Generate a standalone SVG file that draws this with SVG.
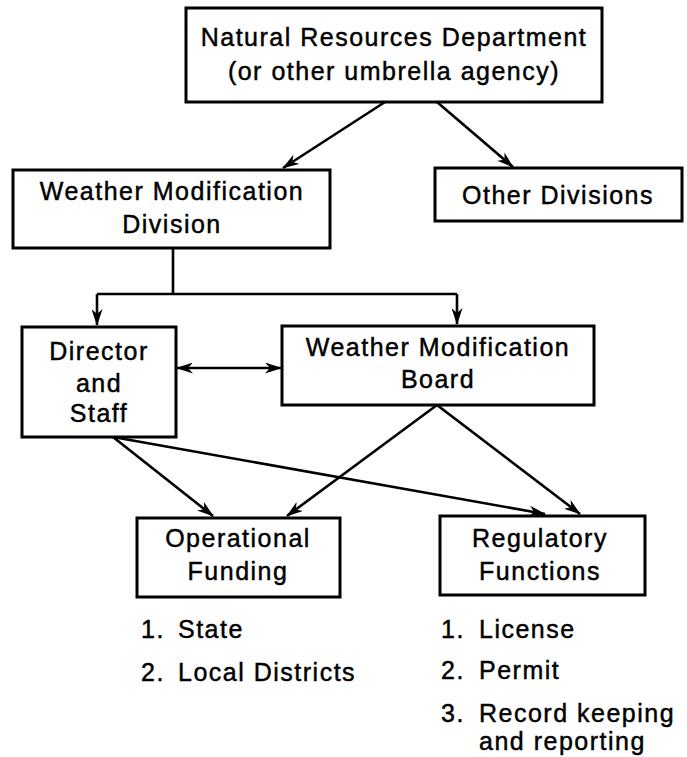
<svg xmlns="http://www.w3.org/2000/svg" width="687" height="757" viewBox="0 0 687 757">
<style>
.box{fill:#fff;stroke:#000;stroke-width:3}
.t{font-family:"Liberation Sans",Arial,sans-serif;font-size:25px;letter-spacing:1.5px;fill:#000;stroke:#000;stroke-width:0.45;text-anchor:middle}
.l{font-family:"Liberation Sans",Arial,sans-serif;font-size:25px;letter-spacing:1.5px;fill:#000;stroke:#000;stroke-width:0.45}
.c{fill:none;stroke:#000;stroke-width:2.6}
</style>
<defs>
<marker id="ah" markerUnits="userSpaceOnUse" markerWidth="17" markerHeight="11" viewBox="0 0 17 11" refX="16" refY="5.5" orient="auto-start-reverse">
<path d="M0,0 L17,5.5 L0,11 L5,5.5 z" fill="#000"/>
</marker>
</defs>
<rect width="687" height="757" fill="#fff"/>
<g id="connectors">
<path class="c" d="M385,102 L283,168" marker-end="url(#ah)"/>
<path class="c" d="M437,102 L513,167" marker-end="url(#ah)"/>
<path class="c" d="M173,248 L173,294 M97,294 L457,294"/>
<path class="c" d="M97,294 L97,325" marker-end="url(#ah)"/>
<path class="c" d="M457,294 L457,324" marker-end="url(#ah)"/>
<path class="c" d="M177,368 L281,368" marker-start="url(#ah)" marker-end="url(#ah)"/>
<path class="c" d="M113,437 L213,516" marker-end="url(#ah)"/>
<path class="c" d="M113,437 L545,514" marker-end="url(#ah)"/>
<path class="c" d="M437,405 L287,516" marker-end="url(#ah)"/>
<path class="c" d="M437,405 L580,514" marker-end="url(#ah)"/>
</g>
<g id="n-nrd">
<rect class="box" x="186" y="8" width="416" height="94"/>
<text class="t" x="394" y="46">Natural Resources Department</text>
<text class="t" x="394" y="80">(or other umbrella agency)</text>
</g>
<g id="n-wmd">
<rect class="box" x="13" y="170" width="317" height="78"/>
<text class="t" x="172" y="200">Weather Modification</text>
<text class="t" x="172" y="233">Division</text>
</g>
<g id="n-other">
<rect class="box" x="435" y="168" width="247" height="53"/>
<text class="t" x="558" y="204">Other Divisions</text>
</g>
<g id="n-director">
<rect class="box" x="22" y="327" width="154" height="110"/>
<text class="t" x="99" y="360">Director</text>
<text class="t" x="99" y="392">and</text>
<text class="t" x="99" y="422">Staff</text>
</g>
<g id="n-board">
<rect class="box" x="282" y="326" width="312" height="79"/>
<text class="t" x="438" y="356">Weather Modification</text>
<text class="t" x="438" y="388">Board</text>
</g>
<g id="n-funding">
<rect class="box" x="137" y="518" width="203" height="79"/>
<text class="t" x="238" y="547">Operational</text>
<text class="t" x="238" y="580">Funding</text>
</g>
<g id="n-regulatory">
<rect class="box" x="440" y="516" width="205" height="79"/>
<text class="t" x="540" y="547">Regulatory</text>
<text class="t" x="540" y="580">Functions</text>
</g>
<g id="list-funding">
<text class="l" x="141" y="638">1.</text><text class="l" x="178" y="638">State</text>
<text class="l" x="141" y="681">2.</text><text class="l" x="178" y="681">Local Districts</text>
</g>
<g id="list-regulatory">
<text class="l" x="441" y="638">1.</text><text class="l" x="479" y="638">License</text>
<text class="l" x="441" y="679">2.</text><text class="l" x="479" y="679">Permit</text>
<text class="l" x="441" y="722">3.</text><text class="l" x="479" y="722">Record keeping</text>
<text class="l" x="479" y="750">and reporting</text>
</g>
</svg>
